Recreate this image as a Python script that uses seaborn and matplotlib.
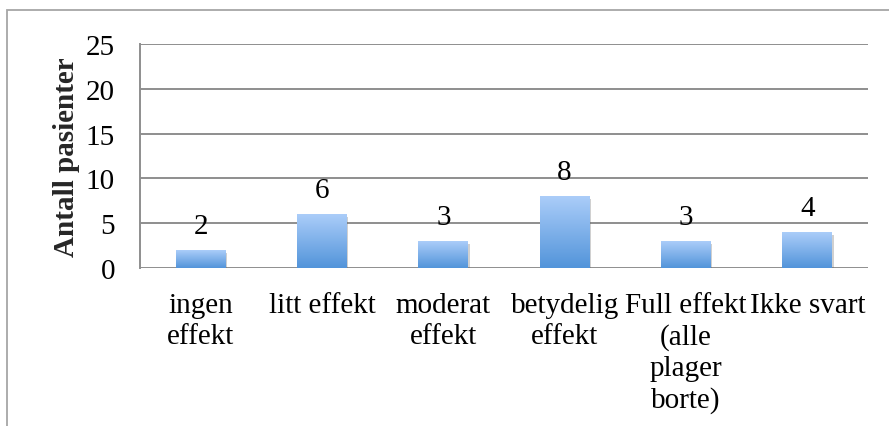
import matplotlib
matplotlib.use("Agg")
import matplotlib.pyplot as plt
import matplotlib.patheffects as pe
from matplotlib.colors import LinearSegmentedColormap
from matplotlib.patches import Rectangle
import numpy as np
import pandas as pd
import seaborn as sns

categories = ["ingen\neffekt", "litt effekt", "moderat\neffekt", "betydelig\neffekt",
              "Full effekt\n(alle\nplager\nborte)", "Ikke svart"]
counts = [2, 6, 3, 8, 3, 4]
y_ticks = [0, 5, 10, 15, 20, 25]
y_label = "Antall pasienter"

sns.set_theme(style="white")
plt.rcParams["font.family"] = ["Liberation Serif", "DejaVu Serif"]

df = pd.DataFrame({"kategori": categories, "antall": counts})

W, H = 889, 427
FS = 21
fig = plt.figure(figsize=(W / 100, H / 100), dpi=100)
ax = fig.add_axes([140 / W, 158 / H, 728 / W, 224 / H])

grid_col = "#8e8e8e"
sns.barplot(data=df, x="kategori", y="antall", ax=ax, width=0.41,
            color="#5294da", edgecolor="none", zorder=3)

ax.set_ylim(0, 25)
ax.set_xlim(-0.5, len(categories) - 0.5)
ax.set_yticks(y_ticks)
ax.set_yticklabels([str(t) for t in y_ticks])
ax.grid(axis="y", color=grid_col, linewidth=1.4, zorder=0)
ax.grid(axis="x", visible=False)
for s in ["top", "right", "bottom"]:
    ax.spines[s].set_visible(False)
ax.spines["left"].set_color(grid_col)
ax.spines["left"].set_linewidth(1.4)
ax.tick_params(axis="y", length=0, pad=18, labelsize=FS, colors="black")
ax.tick_params(axis="x", length=0, pad=17, labelsize=FS, colors="black")
for lbl in ax.get_xticklabels():
    lbl.set_multialignment("center")
    lbl.set_linespacing(1.25)
ax.set_xlabel("")
ax.set_ylabel(y_label, fontsize=FS, fontweight="bold", labelpad=4)

# vertical gradient fill with soft drop shadow on each bar
cmap = LinearSegmentedColormap.from_list("bar", ["#5294da", "#abcdf9"])
grad = np.linspace(0, 1, 256).reshape(-1, 1)
for patch in ax.patches:
    patch.set_path_effects([pe.SimplePatchShadow(offset=(1, -2), shadow_rgbFace="#666666", alpha=0.3),
                            pe.Normal()])
    x0, y0 = patch.get_x(), patch.get_y()
    w, h = patch.get_width(), patch.get_height()
    im = ax.imshow(grad, cmap=cmap, aspect="auto", origin="lower",
                   extent=(x0, x0 + w, y0, y0 + h), zorder=4)
    im.set_clip_path(patch)

ax.bar_label(ax.containers[0], labels=[str(v) for v in counts], padding=8,
             fontsize=FS, color="black", zorder=5)
ax.set_xlim(-0.5, len(categories) - 0.5)
ax.set_ylim(0, 25)

# outer chart frame
fig.patches.append(Rectangle((7 / W, -0.1), 1.0, 1.1 - 11 / H, transform=fig.transFigure,
                             fill=False, edgecolor="#a6a6a6", linewidth=1.3))

fig.savefig("out.png", dpi=100)
